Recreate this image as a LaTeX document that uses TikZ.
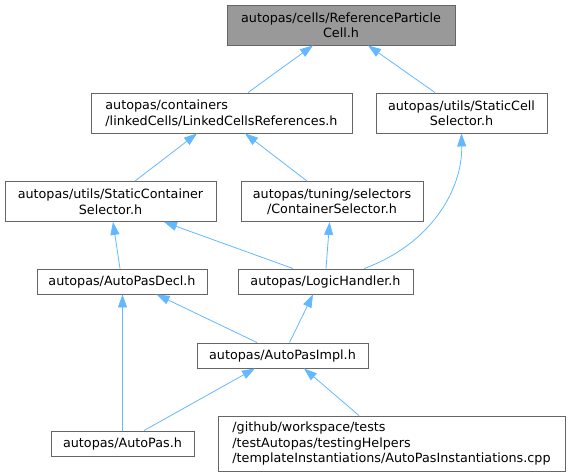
\documentclass[tikz,border=0pt]{standalone}
\usepackage{fontspec}
\setmainfont{DejaVu Sans}
\usepackage{tikz}
\usetikzlibrary{arrows.meta,positioning,calc}
\definecolor{edgeblue}{HTML}{63B8FF}
\definecolor{boxline}{HTML}{666666}
\definecolor{rootfill}{HTML}{999999}
\tikzset{
  hdr/.style     = {draw=boxline,line width=0.9pt,fill=white,inner sep=0pt,
                     align=center,minimum height=25pt,
                     font=\fontsize{12.75}{15.5}\selectfont},
  hdrtwo/.style  = {hdr,minimum height=40pt},
  root/.style    = {hdrtwo,fill=rootfill},
  inc/.style     = {-{Triangle[length=13pt,width=9pt]},draw=edgeblue,
                     line width=0.8pt},
}

\begin{document}
\begin{tikzpicture}[x=1pt,y=-1pt]
  \useasboundingbox (0,0) rectangle (571,476);

  % Header files
  \node[root,minimum width=228pt] (ref) at (341,25)
      {autopas/cells/ReferenceParticle\\Cell.h};
  \node[hdrtwo,minimum width=261pt,align=left] (lcr) at (221.5,113)
      {autopas/containers\\/linkedCells/LinkedCellsReferences.h};
  \node[hdrtwo,minimum width=171pt] (scs) at (461.5,113)
      {autopas/utils/StaticCell\\Selector.h};
  \node[hdrtwo,minimum width=211pt] (stcs) at (110.5,201.5)
      {autopas/utils/StaticContainer\\Selector.h};
  \node[hdrtwo,minimum width=182pt] (csel) at (332,201.5)
      {autopas/tuning/selectors\\/ContainerSelector.h};
  \node[hdr,minimum width=170pt] (decl) at (122,281.5) {autopas/AutoPasDecl.h};
  \node[hdr,minimum width=175pt] (logic) at (325.5,281.5) {autopas/LogicHandler.h};
  \node[hdr,minimum width=171pt] (impl) at (282.5,355.5) {autopas/AutoPasImpl.h};
  \node[hdr,minimum width=143pt] (autopas) at (122.5,443.5) {autopas/AutoPas.h};
  \node[hdr,minimum width=347pt,minimum height=55pt,align=left] (inst) at (391.5,443.5)
      {/github/workspace/tests\\/testAutopas/testingHelpers\\/templateInstantiations/AutoPasInstantiations.cpp};

  % Include edges
  \draw[inc] ([xshift=26.5pt]lcr.north) -- ([xshift=-28pt]ref.south);
  \draw[inc] ([xshift=-26.5pt]scs.north) -- ([xshift=27pt]ref.south);
  \draw[inc] ([xshift=24.5pt]stcs.north) -- ([xshift=-24.5pt]lcr.south);
  \draw[inc] ([xshift=-25pt]csel.north) -- ([xshift=23.5pt]lcr.south);
  \draw[inc] ([xshift=-2pt]decl.north) -- ([xshift=2.5pt]stcs.south);
  \draw[inc] ([xshift=-32.5pt]logic.north) -- ([xshift=53.5pt]stcs.south);
  \draw[inc] ([xshift=0.5pt]logic.north) -- ([xshift=-2.4pt]csel.south);
  \draw[inc] ([xshift=38.5pt]logic.north) .. controls +(66,-24) and +(1,57) .. (scs.south);
  \draw[inc] ([xshift=-25.5pt]impl.north) -- ([xshift=34.6pt]decl.south);
  \draw[inc] ([xshift=7pt]impl.north) -- ([xshift=-12.5pt]logic.south);
  \draw[inc] (autopas.north) -- ([xshift=0.5pt]decl.south);
  \draw[inc] ([xshift=21.5pt]autopas.north) -- ([xshift=-27.5pt]impl.south);
  \draw[inc] ([xshift=-32.5pt]inst.north) -- ([xshift=21.5pt]impl.south);
\end{tikzpicture}
\end{document}
